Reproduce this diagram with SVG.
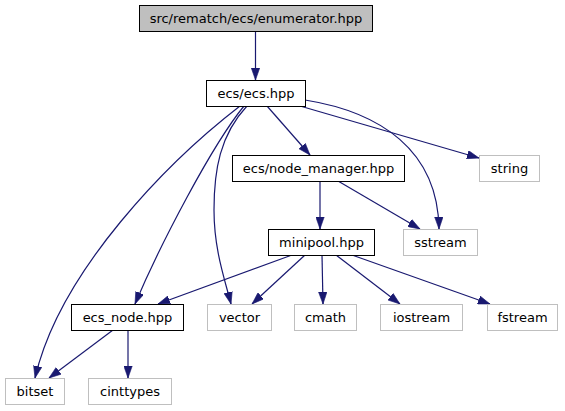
<svg xmlns="http://www.w3.org/2000/svg" width="565" height="411" viewBox="0 0 565 411">
<style>
  .n rect { fill: #ffffff; stroke: #000000; stroke-width: 1; }
  .n.top rect { fill: #bfbfbf; }
  .n.ext rect { stroke: #bfbfbf; }
  .n text { font-family: "DejaVu Sans", sans-serif; font-size: 13px; fill: #000000; text-anchor: middle; }
  .e path { fill: none; stroke: #191970; stroke-width: 1.2; marker-end: url(#arr); }
</style>
<defs>
  <marker id="arr" markerUnits="userSpaceOnUse" markerWidth="12" markerHeight="9" refX="10" refY="3.5" orient="auto" viewBox="0 0 10 7">
    <path d="M0,0 L10,3.5 L0,7 z" fill="#191970" stroke="#191970" stroke-width="0.5"/>
  </marker>
</defs>
<rect width="565" height="411" fill="#ffffff"/>
<g id="edges" class="e">
  <path d="M255.5,31 L255.5,80"/>
  <path d="M267,106 L310,155"/>
  <path d="M300,106 L479,158"/>
  <path d="M305,100 C380,112 438,150 439,229"/>
  <path d="M247,106 C220,135 214,170 214,210 C214,250 225,280 231,304"/>
  <path d="M244,106 C212,145 160,245 135,304"/>
  <path d="M240,106 C170,160 60,270 35,378"/>
  <path d="M320,181 L320,229"/>
  <path d="M338,181 L420,229"/>
  <path d="M292,255 L158,304"/>
  <path d="M305,255 L252,304"/>
  <path d="M322,255 L323,304"/>
  <path d="M336,255 L400,304"/>
  <path d="M352,255 L490,304"/>
  <path d="M113,330 L49,378"/>
  <path d="M128,330 L128,378"/>
</g>
<g id="enumerator" class="n top"><rect x="139.5" y="5.5" width="233" height="26"/><text x="256" y="23">src/rematch/ecs/enumerator.hpp</text></g>
<g id="ecs" class="n"><rect x="206.5" y="80.5" width="99" height="26"/><text x="256" y="98">ecs/ecs.hpp</text></g>
<g id="node_manager" class="n"><rect x="232.5" y="155.5" width="172" height="26"/><text x="318.5" y="173">ecs/node_manager.hpp</text></g>
<g id="string" class="n ext"><rect x="479.5" y="155.5" width="60" height="26"/><text x="509.5" y="173">string</text></g>
<g id="minipool" class="n"><rect x="268.5" y="229.5" width="106" height="26"/><text x="321.5" y="247">minipool.hpp</text></g>
<g id="sstream" class="n ext"><rect x="403.5" y="229.5" width="74" height="26"/><text x="440.5" y="247">sstream</text></g>
<g id="ecs_node" class="n"><rect x="71.5" y="304.5" width="112" height="26"/><text x="127.5" y="322">ecs_node.hpp</text></g>
<g id="vector" class="n ext"><rect x="207.5" y="304.5" width="64" height="26"/><text x="239.5" y="322">vector</text></g>
<g id="cmath" class="n ext"><rect x="294.5" y="304.5" width="62" height="26"/><text x="325.5" y="322">cmath</text></g>
<g id="iostream" class="n ext"><rect x="380.5" y="304.5" width="82" height="26"/><text x="421.5" y="322">iostream</text></g>
<g id="fstream" class="n ext"><rect x="487.5" y="304.5" width="70" height="26"/><text x="522.5" y="322">fstream</text></g>
<g id="bitset" class="n ext"><rect x="5.5" y="378.5" width="59" height="26"/><text x="35" y="396">bitset</text></g>
<g id="cinttypes" class="n ext"><rect x="88.5" y="378.5" width="83" height="26"/><text x="130" y="396">cinttypes</text></g>
</svg>
